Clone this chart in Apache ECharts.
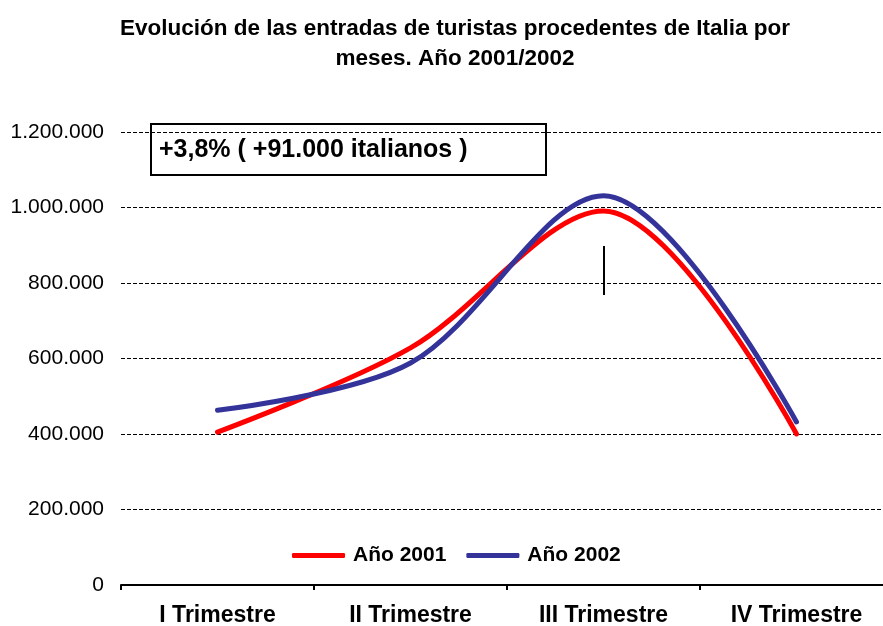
<!DOCTYPE html>
<html>
<head>
<meta charset="utf-8">
<script src="https://cdn.jsdelivr.net/npm/echarts@6/dist/echarts.min.js"></script>
<style>
html,body{margin:0;padding:0;background:#fff;}
#chart{width:883px;height:626px;}
</style>
</head>
<body>
<div id="chart"></div>
<script>
var categories = ['I Trimestre', 'II Trimestre', 'III Trimestre', 'IV Trimestre'];
var values2001 = [405000, 628000, 991000, 400000];
var values2002 = [463000, 588000, 1031000, 432000];
var seriesNames = ['Año 2001', 'Año 2002'];
var markerCategory = 'III Trimestre';
var markerRange = [898000, 768000];
var titleText = 'Evolución de las entradas de turistas procedentes de Italia por\nmeses. Año 2001/2002';
var noteText = '+3,8% ( +91.000 italianos )';

var FONT = 'Arial, "Liberation Sans", sans-serif';
var chart = echarts.init(document.getElementById('chart'), null, {renderer: 'canvas'});

function fmt(v) {
  return String(v).replace(/\B(?=(\d{3})+(?!\d))/g, '.');
}

chart.setOption({
  animation: false,
  backgroundColor: '#fff',
  title: {
    text: titleText,
    left: 450,
    top: 9,
    textAlign: 'center',
    textStyle: {fontFamily: FONT, fontSize: 22.5, fontWeight: 'bold', color: '#000', lineHeight: 30}
  },
  legend: {
    data: seriesNames,
    left: 287,
    top: 540,
    icon: 'roundRect',
    itemWidth: 53,
    itemHeight: 5,
    itemGap: 20,
    textStyle: {fontFamily: FONT, fontSize: 21, fontWeight: 'bold', color: '#000', padding: [0, 0, 0, 3]}
  },
  grid: {left: 121, top: 132, bottom: 41, width: 772, containLabel: false, outerBoundsMode: 'none'},
  xAxis: {
    type: 'category',
    data: categories,
    boundaryGap: true,
    axisLine: {show: true, lineStyle: {color: '#000', width: 2}},
    axisTick: {show: true, length: 5, interval: 0, lineStyle: {color: '#000', width: 2}},
    axisLabel: {fontFamily: FONT, fontSize: 23, fontWeight: 'bold', color: '#000', margin: 19, interval: 0},
    splitLine: {show: false}
  },
  yAxis: {
    type: 'value',
    min: 0,
    max: 1200000,
    interval: 200000,
    axisLine: {show: false},
    axisTick: {show: false},
    axisLabel: {fontFamily: FONT, fontSize: 21, color: '#000', margin: 17, formatter: fmt},
    splitLine: {show: true, lineStyle: {color: '#000', width: 1, type: [4, 2]}}
  },
  series: [
    {
      name: seriesNames[0],
      type: 'line',
      data: values2001,
      smooth: 0.33,
      symbol: 'none',
      z: 3,
      lineStyle: {color: '#FF0000', width: 5, cap: 'round', join: 'round'},
      itemStyle: {color: '#FF0000'},
      markLine: {
        silent: true,
        symbol: 'none',
        label: {show: false},
        lineStyle: {color: '#000', width: 2, type: 'solid'},
        data: [[{coord: [markerCategory, markerRange[0]]}, {coord: [markerCategory, markerRange[1]]}]]
      }
    },
    {
      name: seriesNames[1],
      type: 'line',
      data: values2002,
      smooth: 0.33,
      symbol: 'none',
      z: 4,
      lineStyle: {color: '#333399', width: 5, cap: 'round', join: 'round'},
      itemStyle: {color: '#333399'}
    }
  ],
  graphic: [
    {
      type: 'group',
      z: 100,
      children: [
        {
          type: 'rect',
          shape: {x: 151, y: 124, width: 395, height: 51},
          style: {fill: '#fff', stroke: '#000', lineWidth: 2}
        },
        {
          type: 'text',
          x: 159,
          y: 150,
          style: {text: noteText, fontFamily: FONT, fontSize: 25, fontWeight: 'bold', fill: '#000', verticalAlign: 'middle', align: 'left'}
        }
      ]
    }
  ]
});
</script>
</body>
</html>
